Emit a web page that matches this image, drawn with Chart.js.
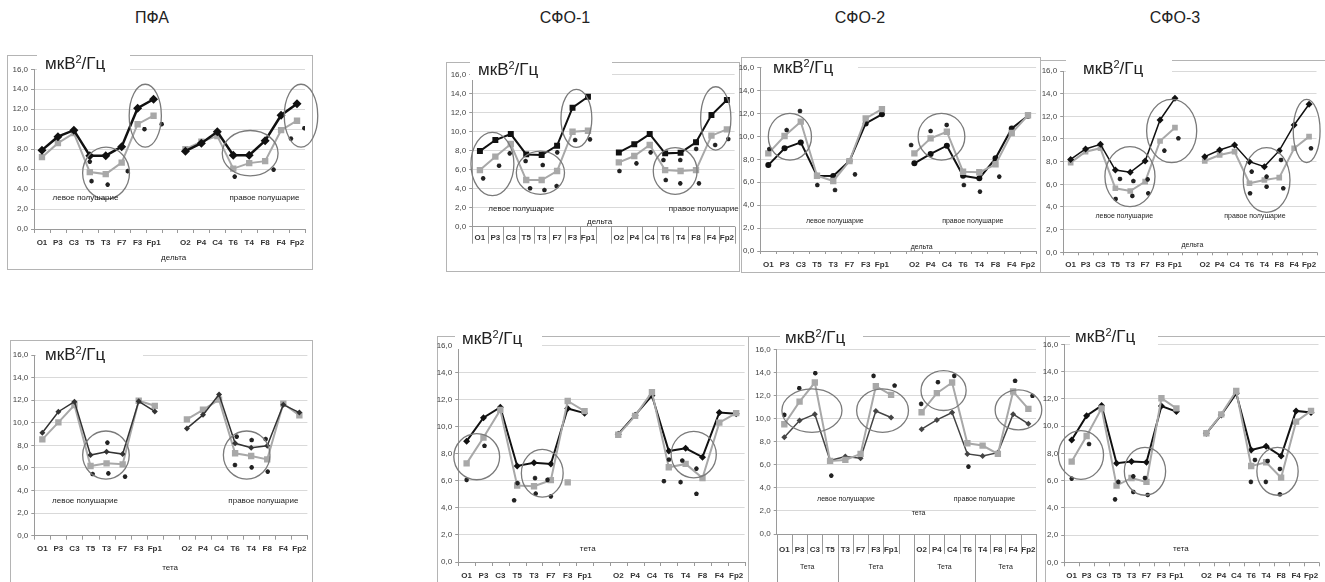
<!DOCTYPE html>
<html>
<head>
<meta charset="utf-8">
<script src="https://cdn.jsdelivr.net/npm/chart.js@4.4.1/dist/chart.umd.min.js"></script>
<style>
  body { margin: 0; background: #fff; width: 1325px; height: 582px; position: relative; overflow: hidden;
         font-family: 'Liberation Sans', Arial, sans-serif; }
  .head { position: absolute; top: 8px; font-size: 16px; line-height: 20px; color: #222; transform: translateX(-50%); }
  .frame { position: absolute; border: 1px solid #b4b4b4; box-sizing: border-box; }
  canvas { position: absolute; }
  .unit { position: absolute; background: #fff; height: 20px; font-size: 17px; line-height: 20px; color: #222;
          white-space: nowrap; box-sizing: border-box; z-index: 5; }
  .unit span { font-size: 11px; position: relative; top: -6px; }
</style>
</head>
<body>
<div class="head" style="left:152px">ПФА</div>
<div class="head" style="left:565px">СФО-1</div>
<div class="head" style="left:860px">СФО-2</div>
<div class="head" style="left:1175px">СФО-3</div>

<div class="frame" style="left:7px;top:55px;width:306px;height:215px"></div>
<div class="frame" style="left:446px;top:62px;width:294px;height:210px"></div>
<div class="frame" style="left:741px;top:57px;width:300px;height:216px"></div>
<div class="frame" style="left:1040px;top:60px;width:290px;height:213px"></div>
<div class="frame" style="left:10px;top:340px;width:303px;height:260px"></div>
<div class="frame" style="left:437px;top:336px;width:312px;height:260px"></div>
<div class="frame" style="left:748px;top:336px;width:298px;height:260px"></div>
<div class="frame" style="left:1045px;top:336px;width:290px;height:260px"></div>

<div class="unit" style="left:37px;top:54px;width:93px;padding-left:8px">мкВ<span>2</span>/Гц</div>
<div class="unit" style="left:470px;top:60px;width:142px;padding-left:8px">мкВ<span>2</span>/Гц</div>
<div class="unit" style="left:762px;top:58px;width:96px;padding-left:11px">мкВ<span>2</span>/Гц</div>
<div class="unit" style="left:1066px;top:59px;width:106px;padding-left:17px">мкВ<span>2</span>/Гц</div>
<div class="unit" style="left:36px;top:345px;width:107px;padding-left:9px">мкВ<span>2</span>/Гц</div>
<div class="unit" style="left:455px;top:329px;width:87px;padding-left:7px">мкВ<span>2</span>/Гц</div>
<div class="unit" style="left:780px;top:328px;width:83px;padding-left:5px">мкВ<span>2</span>/Гц</div>
<div class="unit" style="left:1070px;top:327px;width:88px;padding-left:5px">мкВ<span>2</span>/Гц</div>

<script>
const categories = ['O1', 'P3', 'C3', 'T5', 'T3', 'F7', 'F3', 'Fp1', '', 'O2', 'P4', 'C4', 'T6', 'T4', 'F8', 'F4', 'Fp2'];

// ПФА, дельта
const pfaDeltaBlack = [7.9, 9.25, 9.9, 7.35, 7.35, 8.25, 12.1, 13.0, null, 7.8, 8.6, 9.75, 7.4, 7.4, 8.85, 11.4, 12.55];
const pfaDeltaGray = [7.2, 8.6, 9.6, 5.7, 5.5, 6.65, 10.5, 11.35, null, 8.0, 8.75, 9.3, 6.05, 6.6, 6.8, 9.9, 10.85];
const pfaDeltaStarX = [3.0, 3.11, 4.12, 5.38, 6.43, 7.51, 12.09, 14.53, 15.62, 16.46];
const pfaDeltaStarY = [6.75, 4.8, 4.45, 5.8, 10.0, 10.5, 5.25, 5.95, 9.05, 10.1];
const pfaDeltaRings = [[6.48, 11.35, 1.01, 3.15], [4.02, 5.6, 1.47, 2.6], [13.06, 7.6, 1.75, 2.27], [16.25, 11.35, 1.05, 3.15]];
const pfaDeltaNotes = [['левое полушарие', 2.73, 3.1], ['правое полушарие', 13.96, 3.1], ['дельта', 8.26, -2.9]];

// СФО-1, дельта
const sfo1DeltaBlack = [7.96, 9.12, 9.75, 7.61, 7.54, 8.53, 12.53, 13.68, null, 7.82, 8.67, 9.75, 7.72, 7.79, 8.88, 11.75, 13.33];
const sfo1DeltaGray = [5.96, 7.37, 8.7, 4.91, 4.91, 5.86, 10.0, 10.1, null, 6.77, 7.44, 8.6, 5.96, 5.86, 5.96, 9.58, 10.25];
const sfo1DeltaStarX = [0.21, 1.24, 1.93, 2.96, 3.25, 4.07, 4.18, 5.01, 4.97, 6.17, 7.13, 9.04, 10.14, 11.06, 11.89, 12.04, 12.98, 12.98, 14.01, 14.19, 15.24, 16.09];
const sfo1DeltaStarY = [5.09, 6.42, 7.72, 6.91, 4.04, 6.49, 3.86, 7.82, 4.28, 9.12, 9.19, 5.86, 6.67, 7.82, 7.02, 4.91, 7.02, 4.56, 8.18, 4.56, 8.6, 9.23];
const sfo1DeltaRings = [[0.81, 6.6, 1.39, 3.33], [3.92, 5.68, 1.56, 2.28], [6.25, 11.4, 1.0, 3.05], [12.65, 5.86, 1.42, 2.46], [15.28, 11.4, 0.98, 3.33]];
const sfo1DeltaNotes = [['левое полушарие', 2.68, 1.93], ['правое полушарие', 14.5, 1.93], ['дельта', 7.75, 0.55]];

// СФО-2, дельта
const sfo2DeltaBlack = [7.5, 8.96, 9.48, 6.57, 6.55, 7.85, 11.14, 11.93, null, 7.65, 8.47, 9.19, 6.57, 6.34, 8.09, 10.7, 11.8];
const sfo2DeltaGray = [8.52, 10.04, 11.29, 6.57, 6.11, 7.85, 11.58, 12.39, null, 8.52, 9.83, 10.41, 6.92, 6.87, 7.56, 10.3, 11.85];
const sfo2DeltaStarX = [0.06, 1.13, 1.95, 3.02, 4.11, 5.34, 8.8, 10.0, 10.99, 12.05, 13.04, 14.23];
const sfo2DeltaStarY = [8.9, 10.56, 12.22, 5.76, 5.32, 6.69, 9.25, 10.47, 11.0, 5.76, 5.18, 6.49];
const sfo2DeltaRings = [[1.33, 9.98, 1.33, 2.04], [10.67, 9.98, 1.44, 2.04]];
const sfo2DeltaNotes = [['левое полушарие', 4.1, 2.65], ['правое полушарие', 12.6, 2.65], ['дельта', 9.45, 0.35]];

// СФО-3, дельта
const sfo3DeltaBlack = [8.2, 9.12, 9.53, 7.26, 7.06, 8.06, 11.68, 13.59, null, 8.44, 9.03, 9.47, 8.0, 7.56, 8.97, 11.24, 13.06];
const sfo3DeltaGray = [7.91, 8.88, 9.18, 5.65, 5.41, 6.24, 9.82, 11.0, null, 8.06, 8.59, 8.88, 6.09, 6.38, 6.59, 9.18, 10.21];
const sfo3DeltaStarX = [0, 3.02, 3.31, 4.14, 4.21, 5.17, 5.21, 6.29, 7.23, 12.04, 12.15, 13.15, 13.15, 14.12, 14.27, 16.13];
const sfo3DeltaStarY = [15.8, 4.71, 6.47, 4.97, 6.29, 6.44, 5.21, 8.97, 10.06, 5.21, 7.12, 6.68, 5.79, 8.15, 5.65, 9.18];
const sfo3DeltaRings = [[3.98, 6.68, 1.68, 2.65], [6.78, 10.71, 1.68, 2.79], [13.15, 6.38, 1.57, 2.85], [15.84, 10.71, 0.9, 2.79]];
const sfo3DeltaNotes = [['левое полушарие', 3.6, 3.24], ['правое полушарие', 12.37, 3.24], ['дельта', 8.17, 0.65]];

// ПФА, тета
const pfaThetaBlack = [9.12, 10.98, 11.87, 7.14, 7.44, 7.23, 11.9, 11.0, null, 9.5, 10.7, 12.5, 8.18, 7.79, 7.97, 11.6, 10.9];
const pfaThetaGray = [8.53, 10.04, 11.57, 6.17, 6.41, 6.32, 11.95, 11.5, null, 10.3, 11.15, 12.05, 7.3, 7.06, 6.76, 11.7, 10.65];
const pfaThetaStarX = [3.13, 4.05, 4.11, 5.15, 11.99, 12.1, 13.03, 13.03, 13.9, 14.03];
const pfaThetaStarY = [5.46, 8.24, 5.52, 5.23, 6.26, 8.77, 8.47, 6.05, 8.56, 5.67];
const pfaThetaRings = [[3.96, 7.14, 1.45, 2.13], [12.72, 7.14, 1.45, 2.13]];
const pfaThetaNotes = [['левое полушарие', 2.66, 3.1], ['правое полушарие', 13.76, 3.1], ['тета', 7.95, -2.86]];

// СФО-1, тета
const sfo1ThetaBlack = [8.93, 10.66, 11.44, 7.1, 7.34, 7.24, 11.35, 11.0, null, 9.45, 10.85, 12.3, 8.2, 8.4, 7.75, 11.05, 10.95];
const sfo1ThetaGray = [7.29, 9.2, 11.24, 5.65, 5.6, 6.05, 11.9, 11.15, null, 9.4, 10.8, 12.55, 7.0, 7.25, 6.2, 10.3, 11.0];
const sfo1ThetaLoneX = [6];
const sfo1ThetaLoneY = [5.88];
const sfo1ThetaStarX = [0, 1.06, 2.82, 3.02, 4.06, 4.1, 4.8, 5.0, 11.71, 12.01, 12.7, 12.8, 13.64, 13.64];
const sfo1ThetaStarY = [6.07, 8.59, 4.56, 5.83, 6.2, 5.05, 6.07, 4.85, 5.97, 7.57, 5.9, 7.5, 6.9, 5.04];
const sfo1ThetaRings = [[0.6, 7.78, 1.36, 1.7], [4.49, 6.56, 1.24, 1.76], [13.48, 7.94, 1.34, 1.72]];
const sfo1ThetaNotes = [['тета', 7.19, 1.01]];

// СФО-2, тета
const sfo2ThetaBlack = [8.38, 9.83, 10.38, 6.36, 6.71, 6.56, 10.66, 10.09, null, 9.08, 9.88, 10.52, 6.94, 6.76, 7.05, 10.38, 9.54];
const sfo2ThetaGray = [9.51, 11.47, 13.12, 6.33, 6.42, 6.94, 12.8, 12.05, null, 10.55, 12.2, 13.12, 7.86, 7.66, 6.94, 12.34, 10.84];
const sfo2ThetaStarX = [0, 0.98, 2.03, 3.08, 5.85, 7.23, 8.97, 10.07, 11.14, 12.07, 15.13, 16.27];
const sfo2ThetaStarY = [10.32, 12.63, 13.93, 5.06, 13.7, 12.86, 11.27, 13.15, 13.7, 5.84, 13.27, 11.97];
const sfo2ThetaRings = [[1.81, 10.69, 1.97, 1.88], [6.44, 10.69, 1.7, 1.88], [10.44, 12.43, 1.48, 1.73], [15.35, 10.75, 1.53, 1.73]];
const sfo2ThetaNotes = [['левое полушарие', 4.04, 3.0], ['правое полушарие', 13.12, 3.0], ['тета', 8.8, 1.85],
  ['Тета', 1.5, -2.9], ['Тета', 6, -2.9], ['Тета', 10.5, -2.9], ['Тета', 14.5, -2.9]];
const sfo2ThetaGroupEdges = [-0.5, 3.5, 8.5, 12.5, 16.5];

// СФО-3, тета
const sfo3ThetaBlack = [8.98, 10.76, 11.5, 7.27, 7.39, 7.34, 11.47, 11.06, null, 9.47, 10.81, 12.4, 8.24, 8.51, 7.8, 11.11, 11.0];
const sfo3ThetaGray = [7.39, 9.27, 11.3, 5.63, 6.19, 5.9, 12.04, 11.3, null, 9.47, 10.86, 12.57, 7.07, 7.34, 6.21, 10.32, 11.11];
const sfo3ThetaStarX = [0, 1.16, 2.9, 3.12, 4.12, 4.12, 4.9, 5.08, 11.98, 12.25, 12.98, 13.1, 13.92, 13.92];
const sfo3ThetaStarY = [6.14, 8.68, 4.62, 5.9, 6.31, 5.16, 6.19, 4.94, 5.9, 7.51, 5.9, 7.44, 6.85, 4.99];
const sfo3ThetaRings = [[0.62, 7.88, 1.51, 1.79], [4.9, 6.68, 1.38, 1.76], [13.76, 6.68, 1.38, 1.76]];
const sfo3ThetaNotes = [['тета', 7.3, 1.0]];

const narrow = "'Liberation Sans Narrow', 'Arial Narrow', 'Liberation Sans', sans-serif";
const pts = arr => arr.map((v, i) => ({ x: i, y: v }));
const pairs = (xs, ys) => xs.map((x, i) => ({ x: x, y: ys[i] }));

// rings, notes and category ticks drawn through the scales
const marks = {
  id: 'marks',
  afterDatasetsDraw(chart, args, o) {
    const { ctx, chartArea: a, scales: { x, y } } = chart;
    ctx.save();
    ctx.strokeStyle = '#9a9a9a';
    ctx.lineWidth = 1;
    for (let i = 0; i <= categories.length; i++) {
      const px = Math.round(x.getPixelForValue(i - 0.5)) + 0.5;
      ctx.beginPath(); ctx.moveTo(px, a.bottom); ctx.lineTo(px, a.bottom + o.sep); ctx.stroke();
    }
    (o.groups || []).forEach(g => {
      const px = Math.round(x.getPixelForValue(g)) + 0.5;
      ctx.beginPath(); ctx.moveTo(px, a.bottom); ctx.lineTo(px, chart.height); ctx.stroke();
    });
    ctx.strokeStyle = '#7a7a7a';
    ctx.lineWidth = 1.3;
    o.rings.forEach(([cx, cy, rx, ry]) => {
      const px = x.getPixelForValue(cx), py = y.getPixelForValue(cy);
      const w = Math.abs(x.getPixelForValue(cx + rx) - px);
      const h = Math.abs(y.getPixelForValue(cy + ry) - py);
      ctx.beginPath(); ctx.ellipse(px, py, w, h, 0, 0, Math.PI * 2); ctx.stroke();
    });
    ctx.fillStyle = '#222';
    ctx.textAlign = 'center';
    ctx.textBaseline = 'middle';
    ctx.font = o.noteSize + "px 'Liberation Sans', Arial, sans-serif";
    o.notes.forEach(([t, nx, ny]) => ctx.fillText(t, x.getPixelForValue(nx), y.getPixelForValue(ny)));
    ctx.restore();
  }
};

const panels = [
  { box: [0, 50, 320, 225], plot: [34, 69.3, 305, 229], xh: 30, pad: 9, sep: 4,
    black: pfaDeltaBlack, gray: pfaDeltaGray, sx: pfaDeltaStarX, sy: pfaDeltaStarY, rings: pfaDeltaRings, notes: pfaDeltaNotes, noteSize: 8,
    bc: '#111', bw: 2.5, bp: 'rectRot', br: 4.5, gw: 2, gr: 4.5, grayTop: false },
  { box: [440, 50, 300, 225], plot: [472.2, 74.7, 735.7, 226.7], xh: 30, pad: 6, sep: 17,
    black: sfo1DeltaBlack, gray: sfo1DeltaGray, sx: sfo1DeltaStarX, sy: sfo1DeltaStarY, rings: sfo1DeltaRings, notes: sfo1DeltaNotes, noteSize: 8,
    bc: '#111', bw: 2, bp: 'rect', br: 4.2, gw: 2, gr: 4.5, grayTop: false },
  { box: [730, 50, 315, 225], plot: [760.2, 67.7, 1036.1, 251], xh: 22, pad: 9, sep: 3,
    black: sfo2DeltaBlack, gray: sfo2DeltaGray, sx: sfo2DeltaStarX, sy: sfo2DeltaStarY, rings: sfo2DeltaRings, notes: sfo2DeltaNotes, noteSize: 7,
    bc: '#111', bw: 2, bp: 'circle', br: 3, gw: 2, gr: 4.5, grayTop: true },
  { box: [1030, 50, 295, 225], plot: [1063.2, 71, 1316.5, 252.3], xh: 22, pad: 8, sep: 3,
    black: sfo3DeltaBlack, gray: sfo3DeltaGray, sx: sfo3DeltaStarX, sy: sfo3DeltaStarY, rings: sfo3DeltaRings, notes: sfo3DeltaNotes, noteSize: 7,
    bc: '#111', bw: 1.5, bp: 'rectRot', br: 3.5, gw: 2, gr: 4, grayTop: false },
  { box: [0, 330, 320, 252], plot: [34.3, 355, 307.4, 535.7], xh: 30, pad: 8, sep: 4,
    black: pfaThetaBlack, gray: pfaThetaGray, sx: pfaThetaStarX, sy: pfaThetaStarY, rings: pfaThetaRings, notes: pfaThetaNotes, noteSize: 8,
    bc: '#333', bw: 1.5, bp: 'rectRot', br: 3, gw: 2, gr: 4.5, grayTop: false },
  { box: [425, 330, 325, 252], plot: [458.2, 345.5, 746.1, 562], xh: 18, pad: 9, sep: 4,
    black: sfo1ThetaBlack, gray: sfo1ThetaGray, sx: sfo1ThetaStarX, sy: sfo1ThetaStarY, rings: sfo1ThetaRings, notes: sfo1ThetaNotes, noteSize: 8,
    lx: sfo1ThetaLoneX, ly: sfo1ThetaLoneY,
    bc: '#111', bw: 2, bp: 'rectRot', br: 3.5, gw: 2, gr: 4.5, grayTop: true },
  { box: [740, 330, 305, 252], plot: [776.7, 349.3, 1036, 534], xh: 40, pad: 11, sep: 20, groups: sfo2ThetaGroupEdges,
    black: sfo2ThetaBlack, gray: sfo2ThetaGray, sx: sfo2ThetaStarX, sy: sfo2ThetaStarY, rings: sfo2ThetaRings, notes: sfo2ThetaNotes, noteSize: 7,
    bc: '#444', bw: 1.5, bp: 'rectRot', br: 3, gw: 2, gr: 4.5, grayTop: true },
  { box: [1030, 330, 295, 252], plot: [1064.2, 344.3, 1318.5, 562.3], xh: 18, pad: 9, sep: 4,
    black: sfo3ThetaBlack, gray: sfo3ThetaGray, sx: sfo3ThetaStarX, sy: sfo3ThetaStarY, rings: sfo3ThetaRings, notes: sfo3ThetaNotes, noteSize: 8,
    bc: '#111', bw: 2, bp: 'rectRot', br: 3.5, gw: 2, gr: 4.5, grayTop: true }
];

panels.forEach(p => {
  const [bx, by, bw, bh] = p.box, [l, t, r, b] = p.plot;
  const yw = 30;
  const cv = document.createElement('canvas');
  cv.width = bw; cv.height = bh;
  cv.style.left = bx + 'px'; cv.style.top = by + 'px';
  document.body.appendChild(cv);

  const blackDs = { data: pts(p.black), borderColor: p.bc, backgroundColor: p.bc, borderWidth: p.bw,
    pointStyle: p.bp, pointRadius: p.br, pointBorderWidth: 0 };
  const grayDs = { data: pts(p.gray), borderColor: '#a8a8a8', backgroundColor: '#a8a8a8', borderWidth: p.gw,
    pointStyle: 'rect', pointRadius: p.gr, pointBorderWidth: 0 };
  const starDs = { data: pairs(p.sx, p.sy), showLine: false, pointStyle: 'star', pointRadius: 2.3,
    pointBorderWidth: 1.4, borderColor: '#222', backgroundColor: '#222' };
  const sets = [starDs].concat(p.grayTop ? [grayDs, blackDs] : [blackDs, grayDs]);
  if (p.lx) sets.splice(1, 0, { data: pairs(p.lx, p.ly), showLine: false, pointStyle: 'rect', pointRadius: p.gr,
    pointBorderWidth: 0, backgroundColor: '#a8a8a8', borderColor: '#a8a8a8' });

  new Chart(cv, {
    type: 'line',
    data: { datasets: sets },
    plugins: [marks],
    options: {
      responsive: false, animation: false, events: [],
      layout: { padding: { left: l - bx - yw, top: t - by, right: bx + bw - r, bottom: by + bh - b - p.xh } },
      plugins: {
        legend: { display: false }, tooltip: { enabled: false },
        marks: { rings: p.rings, notes: p.notes, noteSize: p.noteSize, sep: p.sep, groups: p.groups }
      },
      scales: {
        x: {
          type: 'linear', min: -0.5, max: categories.length - 0.5,
          grid: { display: false, drawTicks: false }, border: { color: '#9a9a9a' },
          afterBuildTicks: s => { s.ticks = categories.map((c, i) => ({ value: i })); },
          afterFit: s => { s.height = p.xh; s.paddingLeft = 0; s.paddingRight = 0; },
          ticks: { autoSkip: false, maxRotation: 0, padding: p.pad, color: '#333',
            font: { size: 8, weight: 'bold', family: narrow }, callback: v => categories[v] ?? '' }
        },
        y: {
          min: 0, max: 16,
          afterFit: s => { s.width = yw; s.paddingTop = 0; s.paddingBottom = 0; },
          grid: { color: '#d9d9d9', tickColor: '#9a9a9a', tickLength: 3 }, border: { color: '#9a9a9a' },
          ticks: { stepSize: 2, padding: 3, color: '#444', font: { size: 8, family: "'Liberation Sans', Arial, sans-serif" },
            callback: v => v.toFixed(1).replace('.', ',') }
        }
      }
    }
  });
});
</script>
</body>
</html>
